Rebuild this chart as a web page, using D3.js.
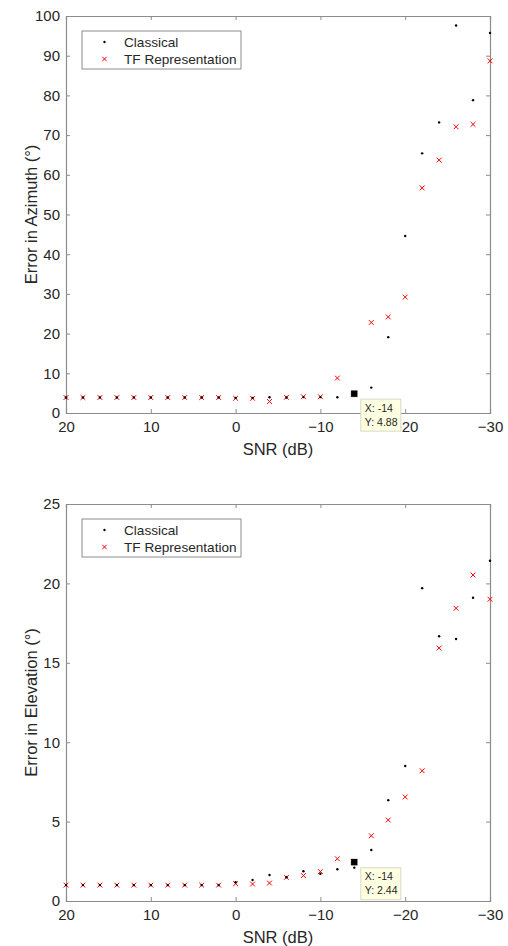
<!DOCTYPE html>
<html>
<head>
<meta charset="utf-8">
<script src="https://cdn.jsdelivr.net/npm/d3@7"></script>
<style>
  html, body { margin: 0; padding: 0; background: #fff; }
  svg { display: block; font-family: "Liberation Sans", Arial, sans-serif; }
</style>
</head>
<body>
<div id="chart"></div>
<script>
// ---- Data ----
const snr = [20, 18, 16, 14, 12, 10, 8, 6, 4, 2, 0, -2, -4, -6, -8, -10, -12, -14, -16, -18, -20, -22, -24, -26, -28, -30];

const azClassical = [3.9, 3.9, 3.9, 3.9, 3.9, 3.9, 3.9, 3.9, 3.9, 3.9, 3.8, 3.8, 3.95, 3.9, 4.0, 4.0, 3.95, 4.88, 6.4, 19.1, 44.6, 65.4, 73.2, 97.6, 78.8, 95.7];
const azTF = [3.9, 3.9, 3.9, 3.9, 3.9, 3.9, 3.9, 3.9, 3.9, 3.9, 3.7, 3.7, 2.9, 3.95, 4.1, 4.1, 8.8, 4.88, 22.8, 24.2, 29.2, 56.7, 63.7, 72.1, 72.7, 88.7];

const elClassical = [1.0, 1.0, 1.0, 1.0, 1.0, 1.0, 1.0, 1.0, 1.0, 1.0, 1.18, 1.32, 1.64, 1.5, 1.87, 1.72, 2.0, 2.1, 3.21, 6.35, 8.5, 19.7, 16.67, 16.5, 19.1, 21.43];
const elTF = [1.0, 1.0, 1.0, 1.0, 1.0, 1.0, 1.0, 1.0, 1.0, 1.0, 1.09, 1.07, 1.13, 1.49, 1.6, 1.85, 2.66, 2.44, 4.11, 5.1, 6.55, 8.2, 15.93, 18.43, 20.53, 19.0];

const xTicks = [20, 10, 0, -10, -20, -30];
const azTicks = [0, 10, 20, 30, 40, 50, 60, 70, 80, 90, 100];
const elTicks = [0, 5, 10, 15, 20, 25];
const seriesNames = ["Classical", "TF Representation"];

const panels = [
  { yLabel: "Error in Azimuth (\u00B0)", yMax: 100, yTicks: azTicks, classical: azClassical, tf: azTF,
    top: 16, tipX: -14, tipY: 4.88 },
  { yLabel: "Error in Elevation (\u00B0)", yMax: 25, yTicks: elTicks, classical: elClassical, tf: elTF,
    top: 504, tipX: -14, tipY: 2.44 }
];

// ---- Layout ----
const W = 508, H = 946;
const left = 66, right = 490, plotH = 397;
const axisColor = "#8c8c8c", textColor = "#262626";

const svg = d3.select("#chart").append("svg").attr("width", W).attr("height", H);

const x = d3.scaleLinear().domain([20, -30]).range([left, right]);

panels.forEach(p => {
  const y = d3.scaleLinear().domain([0, p.yMax]).range([p.top + plotH, p.top]);
  const g = svg.append("g");

  const tl = 4;
  const styleAxis = sel => {
    sel.select(".domain").attr("stroke", axisColor).attr("stroke-width", 1.2);
    sel.selectAll(".tick line").attr("stroke", axisColor).attr("stroke-width", 1);
    sel.selectAll(".tick text").attr("fill", textColor).style("font-size", "15px")
       .style("font-family", "'Liberation Sans', Arial, sans-serif");
  };

  const xb = g.append("g").attr("transform", `translate(0,${p.top + plotH})`)
    .call(d3.axisBottom(x).tickValues(xTicks).tickSize(-tl).tickPadding(8).tickFormat(d3.format("d")));
  styleAxis(xb);
  const xt = g.append("g").attr("transform", `translate(0,${p.top})`)
    .call(d3.axisTop(x).tickValues(xTicks).tickSize(-tl).tickFormat(""));
  styleAxis(xt);
  const yl = g.append("g").attr("transform", `translate(${left},0)`)
    .call(d3.axisLeft(y).tickValues(p.yTicks).tickSize(-tl).tickPadding(6).tickFormat(d3.format("d")));
  styleAxis(yl);
  const yr = g.append("g").attr("transform", `translate(${right},0)`)
    .call(d3.axisRight(y).tickValues(p.yTicks).tickSize(-tl).tickFormat(""));
  styleAxis(yr);

  // Axis labels
  g.append("text").attr("x", (left + right) / 2).attr("y", p.top + plotH + 42)
    .attr("text-anchor", "middle").attr("fill", textColor).style("font-size", "16.5px").text("SNR (dB)");
  g.append("text").attr("transform", `translate(37,${p.top + plotH / 2}) rotate(-90)`)
    .attr("text-anchor", "middle").attr("fill", textColor).style("font-size", "16.5px").text(p.yLabel);

  // Data
  const pts = d3.zip(snr, p.classical, p.tf);
  g.append("g").selectAll("path.tf").data(pts).join("path")
    .attr("class", "tf")
    .attr("d", d => { const cx = x(d[0]), cy = y(d[2]), s = 2.4;
      return `M${cx - s},${cy - s}L${cx + s},${cy + s}M${cx - s},${cy + s}L${cx + s},${cy - s}`; })
    .attr("stroke", "#ff0000").attr("stroke-width", 1).attr("fill", "none");
  g.append("g").selectAll("circle.cl").data(pts).join("circle")
    .attr("class", "cl").attr("cx", d => x(d[0])).attr("cy", d => y(d[1])).attr("r", 1.2).attr("fill", "#000");

  // Legend
  const lx = 82, ly = p.top + 15, lw = 159, lh = 38;
  const lg = g.append("g");
  lg.append("rect").attr("x", lx).attr("y", ly).attr("width", lw).attr("height", lh)
    .attr("fill", "#fff").attr("stroke", axisColor).attr("stroke-width", 1);
  seriesNames.forEach((name, i) => {
    const cy = ly + 11 + i * 17;
    if (i === 0) {
      lg.append("circle").attr("cx", lx + 22.5).attr("cy", cy).attr("r", 1.2).attr("fill", "#000");
    } else {
      const s = 2.2, cx = lx + 22.5;
      lg.append("path").attr("d", `M${cx - s},${cy - s}L${cx + s},${cy + s}M${cx - s},${cy + s}L${cx + s},${cy - s}`)
        .attr("stroke", "#ff0000").attr("stroke-width", 1);
    }
    lg.append("text").attr("x", lx + 42).attr("y", cy).attr("dy", "0.35em")
      .attr("fill", textColor).style("font-size", "13.6px").text(name);
  });

  // Data tip
  const mx = x(p.tipX), my = y(p.tipY);
  g.append("rect").attr("x", mx - 3.5).attr("y", my - 3.5).attr("width", 7).attr("height", 7)
    .attr("fill", "#000").attr("stroke", "#ffffe1").attr("stroke-width", 0.5);
  const bx = mx + 6.5, by = my + 5.5;
  g.append("rect").attr("x", bx).attr("y", by).attr("width", 40).attr("height", 32)
    .attr("fill", "#ffffe1").attr("stroke", "#d8d8c8").attr("stroke-width", 1);
  g.append("text").attr("x", bx + 4).attr("y", by + 9).attr("dy", "0.35em")
    .attr("fill", textColor).style("font-size", "10.5px").text("X: " + p.tipX);
  g.append("text").attr("x", bx + 4).attr("y", by + 23).attr("dy", "0.35em")
    .attr("fill", textColor).style("font-size", "10.5px").text("Y: " + p.tipY);
});
</script>
</body>
</html>
